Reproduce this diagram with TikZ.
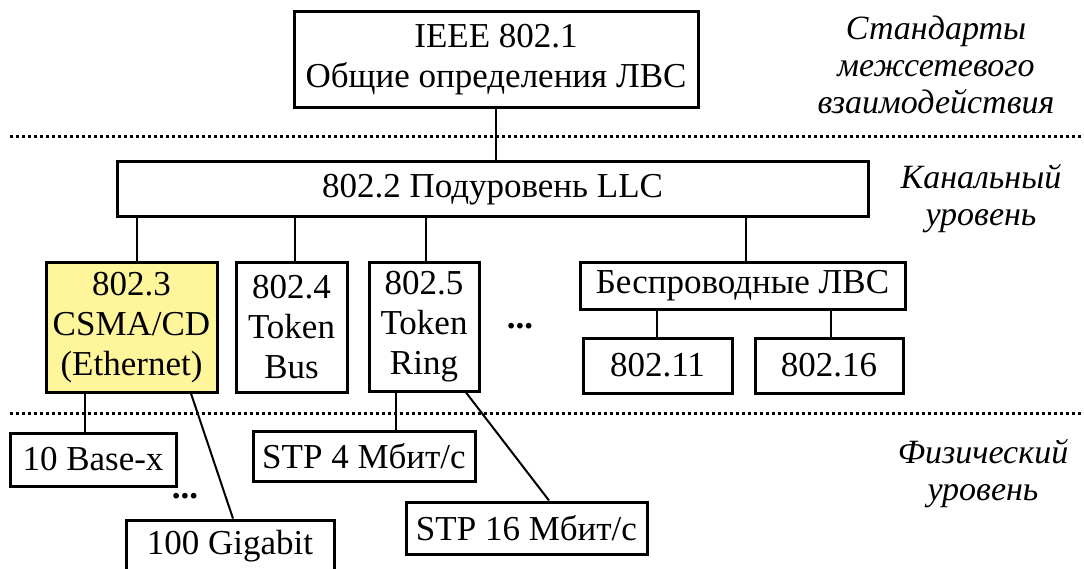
\documentclass[tikz,border=0pt]{standalone}
\usepackage{fontspec}
\setmainfont{Liberation Serif}
\begin{document}
\begin{tikzpicture}[x=1pt,y=-1pt,
  box/.style={draw, line width=3pt, fill=white, inner sep=0pt, align=center,
              font=\fontsize{35}{40}\selectfont},
  ethbox/.style={box, fill=ethyellow},
  link/.style={line width=2pt},
  sep/.style={line width=3pt, dash pattern=on 3pt off 3pt},
  side/.style={align=center, font=\fontsize{34}{37}\selectfont\itshape},
  dots/.style={font=\fontsize{35}{40}\selectfont\bfseries}]
\definecolor{ethyellow}{HTML}{FFF59A}
\useasboundingbox (0,0) rectangle (1084,569);

% level separators
\draw[sep] (10,137) -- (1084,137);
\draw[sep] (10,413) -- (1084,413);

% boxes
\node[box, minimum width=404pt, minimum height=96pt] (ieee) at (496,60) {IEEE 802.1\\Общие определения ЛВС};
\node[box, minimum width=751pt, minimum height=55pt] (llc) at (492.5,189.5) {802.2 Подуровень LLC};

\node[ethbox, minimum width=171pt, minimum height=129pt] (eth) at (131.5,327.5) {802.3\\CSMA/CD\\(Ethernet)};
\node[box, minimum width=111pt, minimum height=129pt] (tbus) at (291.5,327.5) {802.4\\Token\\Bus};
\node[box, minimum width=110pt, minimum height=128pt] (tring) at (424,327) {802.5\\Token\\Ring};
\node[dots] (more) at (520,326) {...};
\node[box, minimum width=325pt, minimum height=46pt] (wlan) at (742.5,286) {Беспроводные ЛВС};
\node[box, minimum width=149pt, minimum height=55pt] (w11) at (657.5,365.5) {802.11};
\node[box, minimum width=148pt, minimum height=55pt] (w16) at (829,365.5) {802.16};

\node[box, minimum width=166pt, minimum height=53pt] (b10) at (93,459.5) {10 Base-x};
\node[dots] (moreeth) at (185,496) {...};
\node[box, minimum width=208pt, minimum height=53pt] (giga) at (230,546.5) {100 Gigabit};
\node[box, minimum width=222pt, minimum height=50pt] (stp4) at (364,456) {STP 4 Мбит/с};
\node[box, minimum width=241pt, minimum height=52pt] (stp16) at (526.5,528) {STP 16 Мбит/с};

% layer captions
\node[side] (capnet) at (936,65) {Стандарты\\межсетевого\\взаимодействия};
\node[side] (capdl) at (981,199) {Канальный\\уровень};
\node[side] (capph) at (983,474) {Физический\\уровень};

% connectors
\draw[link] (ieee.south) -- (llc.north -| ieee.south);
\draw[link] (llc.south -| 137,0) -- (eth.north -| 137,0);
\draw[link] (llc.south -| 295,0) -- (tbus.north -| 295,0);
\draw[link] (llc.south -| 426,0) -- (tring.north -| 426,0);
\draw[link] (llc.south -| 746,0) -- (wlan.north -| 746,0);
\draw[link] (wlan.south -| 657,0) -- (w11.north -| 657,0);
\draw[link] (wlan.south -| 831,0) -- (w16.north -| 831,0);
\draw[link] (eth.south -| 85,0) -- (b10.north -| 85,0);
\draw[link] (eth.south -| 191,0) -- (giga.north -| 233,0);
\draw[link] (tring.south -| 396,0) -- (stp4.north -| 396,0);
\draw[link] (tring.south -| 466,0) -- (stp16.north -| 549,0);
\end{tikzpicture}
\end{document}
